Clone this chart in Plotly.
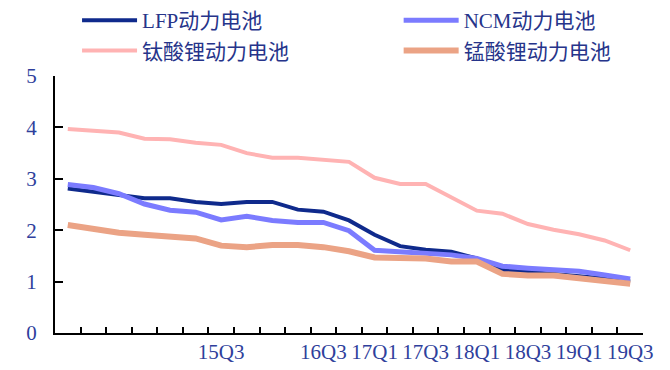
import plotly.graph_objects as go

quarters = [f"{y}Q{q}" for y in range(14, 20) for q in range(1, 5)][:23]
shown_labels = ["15Q3", "16Q3", "17Q1", "17Q3", "18Q1", "18Q3", "19Q1", "19Q3"]

lfp = [2.81, 2.75, 2.68, 2.62, 2.62, 2.55, 2.51, 2.55, 2.55, 2.40, 2.36, 2.19,
       1.91, 1.69, 1.62, 1.58, 1.45, 1.23, 1.19, 1.15, 1.11, 1.06, 1.00]
ncm = [2.89, 2.83, 2.71, 2.51, 2.39, 2.35, 2.20, 2.27, 2.19, 2.15, 2.15, 1.99,
       1.61, 1.58, 1.54, 1.52, 1.45, 1.30, 1.26, 1.23, 1.20, 1.13, 1.05]
lto = [3.97, 3.93, 3.90, 3.78, 3.77, 3.70, 3.66, 3.50, 3.41, 3.41, 3.37, 3.33,
       3.02, 2.90, 2.90, 2.63, 2.38, 2.32, 2.12, 2.01, 1.92, 1.80, 1.61]
lmo = [2.10, 2.02, 1.95, 1.91, 1.88, 1.84, 1.70, 1.67, 1.71, 1.71, 1.67, 1.59,
       1.47, 1.47, 1.45, 1.39, 1.39, 1.15, 1.12, 1.12, 1.06, 1.00, 0.96]

names = ["LFP动力电池", "NCM动力电池", "钛酸锂动力电池", "锰酸锂动力电池"]
colors = ["#0f2a8c", "#7b7bff", "#ffb3b3", "#eba385"]
widths = [4, 5, 4, 6]
legend_ids = ["legend", "legend2", "legend", "legend2"]
series = [lfp, ncm, lto, lmo]

FONT = "Liberation Serif, Noto Sans CJK SC, serif"
TXT = "#2f3f9c"
LEG_TXT = "#26348a"

x_idx = list(range(len(quarters)))
fig = go.Figure()
for name, vals, c, w, lg in zip(names, series, colors, widths, legend_ids):
    fig.add_trace(go.Scatter(x=x_idx, y=vals, mode="lines", name=name,
                             legend=lg, line=dict(color=c, width=w)))

# invisible trace on the label axis
fig.add_trace(go.Scatter(x=x_idx, y=[None] * len(x_idx), xaxis="x2",
                         showlegend=False, hoverinfo="skip"))

label_pos = [quarters.index(q) for q in shown_labels]

leg_common = dict(orientation="v", xref="container", yref="container",
                  yanchor="top", xanchor="left", itemwidth=55,
                  tracegroupgap=0, bgcolor="rgba(0,0,0,0)",
                  font=dict(family=FONT, size=21, color=LEG_TXT))

fig.update_layout(
    width=670, height=370,
    margin=dict(l=55, r=27, t=76, b=37, autoexpand=False),
    paper_bgcolor="white", plot_bgcolor="white",
    font=dict(family=FONT, size=21, color=TXT),
    xaxis=dict(range=[-0.5, len(quarters) - 0.5],
               tickmode="array",
               tickvals=[i - 0.5 for i in range(len(quarters) + 1)],
               ticktext=[""] * (len(quarters) + 1),
               ticks="inside", ticklen=6, tickwidth=2, tickcolor="black",
               showline=True, linecolor="black", linewidth=2,
               showgrid=False, zeroline=False, fixedrange=True),
    xaxis2=dict(range=[-0.5, len(quarters) - 0.5], overlaying="x",
                side="bottom", tickmode="array", tickvals=label_pos,
                ticktext=shown_labels, ticks="", showline=False,
                showgrid=False, zeroline=False, ticklabelstandoff=4,
                tickfont=dict(family=FONT, size=21, color=TXT)),
    yaxis=dict(range=[0, 5], tickmode="array", tickvals=[0, 1, 2, 3, 4, 5],
               ticks="inside", ticklen=8, tickwidth=2, tickcolor="black",
               showline=True, linecolor="black", linewidth=2,
               showgrid=False, zeroline=False, ticklabelstandoff=12,
               tickfont=dict(family=FONT, size=21, color=TXT)),
    legend=dict(x=0.115, y=1.0, **leg_common),
    legend2=dict(x=0.595, y=1.0, **leg_common),
    showlegend=True,
)

fig.write_html("out.html")
